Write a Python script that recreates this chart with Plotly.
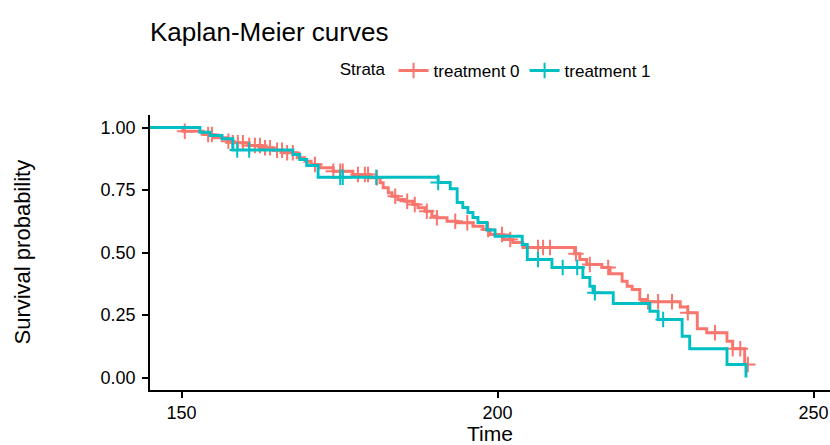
import numpy as np
import plotly.graph_objects as go

# ---- data ----
strata = ["treatment 0", "treatment 1"]
colors = ["#F8766D", "#00BFC4"]

t0_times = [0, 150.2, 153.4, 155.0, 157.3, 158.1, 160.5, 162.7, 164.5, 166.0, 168.3, 169.5,
            170.5, 171.9, 174.0, 177.1, 179.8, 181.4, 181.9, 182.7, 183.3, 184.2, 185.3,
            186.6, 187.4, 188.5, 189.6, 190.4, 192.0, 193.6, 196.1, 197.7, 198.8, 200.9,
            202.4, 204.0, 212.2, 213.0, 214.1, 216.5, 217.8, 219.7, 220.5, 221.3, 222.5,
            223.6, 228.9, 230.1, 231.6, 233.1, 236.3, 237.2, 239.1, 239.8]
t0_surv = [1.0, 0.985, 0.972, 0.959, 0.945, 0.939, 0.928, 0.919, 0.909, 0.899, 0.879, 0.865,
           0.852, 0.839, 0.825, 0.812, 0.799, 0.779, 0.759, 0.739, 0.725, 0.712, 0.705,
           0.692, 0.679, 0.665, 0.645, 0.639, 0.625, 0.619, 0.605, 0.592, 0.572, 0.552,
           0.540, 0.520, 0.495, 0.472, 0.452, 0.440, 0.415, 0.385, 0.365, 0.352, 0.312,
           0.303, 0.282, 0.259, 0.195, 0.179, 0.145, 0.115, 0.052, 0.052]
t0_censor = [150.5, 154.2, 154.8, 157.4, 158.1, 158.9, 159.7, 160.7, 161.6, 162.4, 163.2,
             164.0, 165.1, 165.9, 166.7, 167.6, 171.1, 174.0, 175.1, 175.5, 177.9, 179.0,
             179.5, 180.9, 183.8, 185.7, 186.9, 188.8, 190.4, 193.3, 195.2, 198.5, 200.7,
             202.0, 206.4, 207.2, 208.3, 212.4, 214.6, 217.5, 223.8, 225.4, 227.6, 230.1,
             234.4, 237.2, 238.4, 239.6]

t1_times = [0, 152.9, 154.5, 156.4, 158.1, 167.6, 168.7, 169.8, 171.6, 190.6, 192.5, 193.6,
            194.5, 195.3, 196.1, 196.9, 198.3, 199.6, 203.9, 204.7, 208.6, 213.5, 214.6,
            215.1, 218.3, 224.1, 225.4, 229.2, 230.4, 236.3, 239.3]
t1_surv = [1.0, 0.981, 0.968, 0.955, 0.910, 0.892, 0.872, 0.848, 0.801, 0.780, 0.755, 0.700,
           0.680, 0.660, 0.640, 0.620, 0.590, 0.565, 0.532, 0.472, 0.440, 0.400, 0.365,
           0.339, 0.296, 0.265, 0.232, 0.165, 0.115, 0.052, 0.0]
t1_censor = [158.8, 160.7, 175.1, 175.5, 180.8, 190.6, 206.4, 210.3, 212.6, 215.4, 226.2]

x_ticks = [150, 200, 250]
y_ticks = [0, 0.25, 0.5, 0.75, 1.0]

FONT = "Liberation Sans, Arial, sans-serif"

fig = go.Figure()

groups = [(t0_times, t0_surv, t0_censor), (t1_times, t1_surv, t1_censor)]
for name, col, (tt, ss, cc) in zip(strata, colors, groups):
    tt = np.asarray(tt, float)
    ss = np.asarray(ss, float)
    cc = np.asarray(cc, float)
    idx = np.searchsorted(tt, cc, side="right") - 1
    cy = ss[idx]
    fig.add_trace(go.Scatter(x=tt, y=ss, mode="lines", line=dict(color=col, width=2.9, shape="hv"),
                             name=name, legendgroup=name, showlegend=False, hoverinfo="skip"))
    fig.add_trace(go.Scatter(x=cc, y=cy, mode="markers",
                             marker=dict(symbol="cross-thin", size=11, line=dict(color=col, width=2)),
                             name=name, legendgroup=name, showlegend=False, hoverinfo="skip"))
    # legend entry (line + cross)
    fig.add_trace(go.Scatter(x=[None], y=[None], mode="lines+markers",
                             line=dict(color=col, width=2.9),
                             marker=dict(symbol="cross-thin", size=11, line=dict(color=col, width=2)),
                             name=name, legendgroup=name, showlegend=True))

fig.update_layout(
    width=830, height=445,
    margin=dict(l=150, r=0, t=115, b=55),
    paper_bgcolor="white", plot_bgcolor="white",
    font=dict(family=FONT, color="black"),
    title=dict(text="Kaplan-Meier curves", x=150 / 830, xanchor="left", xref="container",
               y=1 - 32 / 445, yanchor="middle", yref="container",
               font=dict(size=26, family=FONT, color="black")),
    legend=dict(orientation="h", x=0.276, xanchor="left", y=1.16, yanchor="middle",
                title=dict(text="Strata", side="left", font=dict(size=17)),
                font=dict(size=17, color="black"), itemwidth=30, bgcolor="rgba(0,0,0,0)"),
    xaxis=dict(range=[145, 252.6], tickvals=x_ticks, ticktext=[str(v) for v in x_ticks],
               showgrid=False, zeroline=False, showline=True, linecolor="black", linewidth=1.5,
               ticks="outside", ticklen=6, tickwidth=1.5, tickcolor="black",
               tickfont=dict(size=18, color="black"),
               title=dict(text="Time", font=dict(size=21, color="black"), standoff=2)),
    yaxis=dict(range=[-0.05, 1.05], tickvals=y_ticks, tickformat=".2f",
               showgrid=False, zeroline=False, showline=True, linecolor="black", linewidth=1.5,
               ticks="outside", ticklen=6, tickwidth=1.5, tickcolor="black",
               ticklabelstandoff=3,
               tickfont=dict(size=18, color="black")),
    annotations=[dict(text="Survival probability", textangle=-90, xref="paper", yref="paper",
                      x=(22 - 150) / 680, y=0.5, xanchor="center", yanchor="middle",
                      showarrow=False, font=dict(size=22, color="black"))],
)

fig.write_html("out.html")
